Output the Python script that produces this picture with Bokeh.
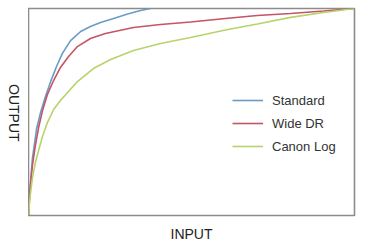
import math
from bokeh.plotting import figure
from bokeh.layouts import row
from bokeh.models import Range1d, Legend, LegendItem, LinearAxis, FixedTicker
from bokeh.core.properties import value
from bokeh.embed import file_html
from bokeh.resources import INLINE

series_names = ["Standard", "Wide DR", "Canon Log"]

standard_in = [0, 0.003, 0.006, 0.012, 0.025, 0.037, 0.052, 0.067, 0.086, 0.104,
               0.129, 0.160, 0.190, 0.221, 0.261, 0.304, 0.344, 0.374]
standard_out = [0, 0.097, 0.159, 0.275, 0.420, 0.498, 0.575, 0.643, 0.720, 0.783,
                0.845, 0.889, 0.913, 0.932, 0.952, 0.973, 0.990, 1.0]

widedr_in = [0, 0.003, 0.006, 0.012, 0.021, 0.031, 0.043, 0.058, 0.077, 0.098, 0.123,
             0.150, 0.190, 0.236, 0.322, 0.405, 0.497, 0.604, 0.702, 0.804, 0.905, 1.0]
widedr_out = [0, 0.087, 0.145, 0.242, 0.338, 0.425, 0.507, 0.585, 0.652, 0.715, 0.768,
              0.816, 0.855, 0.879, 0.908, 0.923, 0.935, 0.952, 0.966, 0.976, 0.988, 1.0]

canonlog_in = [0, 0.003, 0.006, 0.012, 0.021, 0.031, 0.043, 0.058, 0.077, 0.098, 0.120,
               0.150, 0.199, 0.252, 0.322, 0.405, 0.497, 0.604, 0.702, 0.804, 0.905, 1.0]
canonlog_out = [0, 0.058, 0.106, 0.179, 0.256, 0.314, 0.382, 0.449, 0.512, 0.556, 0.594,
                0.647, 0.710, 0.754, 0.797, 0.831, 0.860, 0.896, 0.925, 0.957, 0.981, 1.0]

x_label = "INPUT"
y_label = "OUTPUT"

colors = ["#6a9bc6", "#c45563", "#b8d26c"]

# narrow strip holding the vertical OUTPUT label (reads top to bottom)
side = figure(width=28, height=248, output_backend="svg", toolbar_location=None,
              x_range=Range1d(0, 28), y_range=Range1d(0, 248),
              x_axis_location=None, y_axis_location=None,
              min_border=0, min_border_left=0, min_border_right=0,
              min_border_top=0, min_border_bottom=0)
side.grid.visible = False
side.outline_line_color = None
side.background_fill_color = "white"
side.border_fill_color = "white"
side.text(x=[13.5], y=[123], text=[y_label], angle=-math.pi / 2,
          text_align="center", text_baseline="middle",
          text_font=value("Liberation Sans"), text_font_size="14px", text_color="#222222")

p = figure(width=350, height=248, output_backend="svg", toolbar_location=None,
           x_range=Range1d(0, 1), y_range=Range1d(0, 1),
           x_axis_location=None, y_axis_location=None,
           min_border_left=0, min_border_right=24, min_border_top=8, min_border_bottom=33)
p.grid.visible = False
p.outline_line_color = "#8c8c8c"
p.outline_line_width = 1.6
p.background_fill_color = "white"
p.border_fill_color = "white"

xax = LinearAxis(axis_label=x_label, axis_line_color=None, ticker=FixedTicker(ticks=[]),
                 major_tick_line_color=None, minor_tick_line_color=None,
                 major_tick_out=0, major_tick_in=0, minor_tick_out=0, minor_tick_in=0,
                 major_label_standoff=0, axis_label_standoff=10,
                 axis_label_text_font="Liberation Sans",
                 axis_label_text_font_size="14px",
                 axis_label_text_font_style="normal",
                 axis_label_text_color="#222222")
p.add_layout(xax, "below")

data = [(standard_in, standard_out), (widedr_in, widedr_out), (canonlog_in, canonlog_out)]
renderers = []
for (xs, ys), c in zip(data, colors):
    r = p.line(xs, ys, line_color=c, line_width=1.6)
    renderers.append(r)

legend = Legend(items=[LegendItem(label=n, renderers=[r]) for n, r in zip(series_names, renderers)],
                location=(204, 59), glyph_width=31, glyph_height=20, spacing=3,
                label_standoff=9, padding=10, margin=0,
                label_text_font="Liberation Sans", label_text_font_size="13px",
                label_text_color="#333333", border_line_color=None,
                background_fill_alpha=0)
p.add_layout(legend, "center")

layout = row(side, p, spacing=0)
open("out.html", "w").write(file_html(layout, INLINE))
